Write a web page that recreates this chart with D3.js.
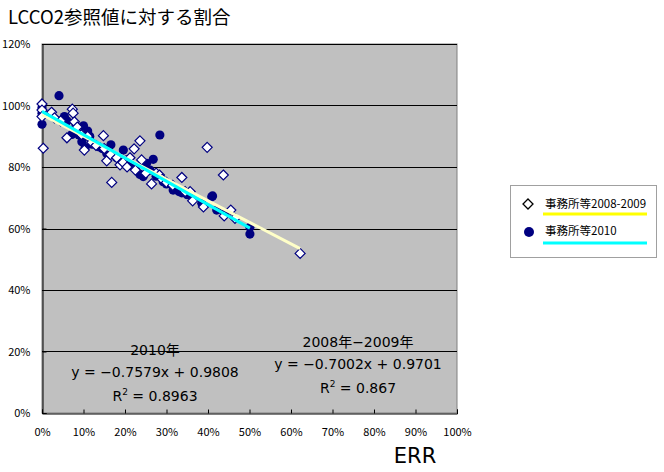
<!DOCTYPE html>
<html><head><meta charset="utf-8">
<script src="https://cdn.jsdelivr.net/npm/d3@7"></script>
<style>
body{margin:0;background:#fff;}
svg text{font-family:"Noto Sans CJK JP","Noto Sans",sans-serif;}
svg text.lat{font-family:"DejaVu Sans","Noto Sans CJK JP",sans-serif;}
</style></head>
<body><svg id="c" width="664" height="472"></svg>
<script>
const titleText = "LCCO2参照値に対する割合";
const xTicks = [0,0.1,0.2,0.3,0.4,0.5,0.6,0.7,0.8,0.9,1.0];
const yTicks = [0,0.2,0.4,0.6,0.8,1.0,1.2];
const seriesNames = ["事務所等2008-2009","事務所等2010"];
const diamonds2008 = [
[0.000,1.005],[0.000,0.985],[0.000,0.964],[0.003,0.861],[0.023,0.978],[0.030,0.960],[0.045,0.950],[0.060,0.895],[0.073,0.988],[0.075,0.975],[0.078,0.947],[0.085,0.930],[0.095,0.905],[0.102,0.855],[0.110,0.900],[0.120,0.880],[0.130,0.870],[0.148,0.902],[0.150,0.860],[0.156,0.820],[0.165,0.840],[0.168,0.750],[0.180,0.830],[0.188,0.807],[0.195,0.815],[0.205,0.800],[0.212,0.830],[0.222,0.859],[0.225,0.790],[0.236,0.885],[0.240,0.823],[0.250,0.780],[0.264,0.745],[0.275,0.780],[0.283,0.774],[0.290,0.760],[0.300,0.750],[0.315,0.740],[0.337,0.766],[0.345,0.720],[0.357,0.720],[0.363,0.690],[0.389,0.670],[0.398,0.864],[0.437,0.774],[0.439,0.641],[0.455,0.660],[0.465,0.633],[0.622,0.519]
];
const circles2010 = [
[0.000,0.993],[0.000,0.975],[0.000,0.939],[0.041,1.032],[0.054,0.964],[0.060,0.950],[0.072,0.906],[0.080,0.925],[0.089,0.904],[0.096,0.882],[0.100,0.934],[0.104,0.863],[0.110,0.917],[0.115,0.900],[0.121,0.874],[0.136,0.866],[0.145,0.860],[0.156,0.844],[0.160,0.855],[0.166,0.872],[0.180,0.830],[0.196,0.855],[0.204,0.823],[0.210,0.810],[0.220,0.801],[0.225,0.795],[0.236,0.776],[0.244,0.769],[0.252,0.812],[0.260,0.790],[0.268,0.825],[0.275,0.770],[0.284,0.904],[0.292,0.752],[0.300,0.745],[0.316,0.725],[0.330,0.720],[0.337,0.716],[0.350,0.710],[0.385,0.682],[0.409,0.703],[0.411,0.706],[0.421,0.660],[0.440,0.650],[0.501,0.604],[0.501,0.582]
];
const trend2008 = {slope:-0.7002, intercept:0.9701, r2:"0.867", label:"2008年−2009年"};
const trend2010 = {slope:-0.7579, intercept:0.9808, r2:"0.8963", label:"2010年"};

const svg = d3.select("#c");
const x = d3.scaleLinear().domain([0,1]).range([42,457]);
const y = d3.scaleLinear().domain([0,1.2]).range([413,44]);

svg.append("text").attr("x",8).attr("y",24).attr("font-size",18.5).attr("fill","#000").text(titleText);

// plot area
svg.append("rect").attr("x",x(0)).attr("y",y(1.2)).attr("width",x(1)-x(0)).attr("height",y(0)-y(1.2))
  .attr("fill","#c0c0c0").attr("stroke","#808080").attr("stroke-width",1);
svg.append("g").selectAll("line").data(yTicks.filter(d=>d>0)).join("line")
  .attr("x1",x(0)).attr("x2",x(1)).attr("y1",d=>Math.round(y(d))+0.5).attr("y2",d=>Math.round(y(d))+0.5)
  .attr("stroke","#000").attr("stroke-width",1);

const fmt = d=>Math.round(d*100)+"%";
const gx = svg.append("g").attr("transform",`translate(0,${Math.round(y(0))+0.5})`)
  .call(d3.axisBottom(x).tickValues(xTicks).tickFormat(fmt).tickSize(-4).tickPadding(15));
gx.selectAll("text").attr("font-size",11).attr("fill","#000");
gx.selectAll("line").attr("stroke","#000");
gx.select(".domain").attr("stroke","#000");
const gy = svg.append("g").attr("transform",`translate(${Math.round(x(0))+0.5},0)`)
  .call(d3.axisLeft(y).tickValues(yTicks).tickFormat(fmt).tickSize(-4).tickPadding(12));
gy.selectAll("text").attr("font-size",11).attr("fill","#000");
gy.selectAll("line").attr("stroke","#000");
gy.select(".domain").attr("stroke","#000");

// markers
const navy = "#000080";
svg.append("g").selectAll("circle").data(circles2010).join("circle")
  .attr("cx",d=>x(d[0])).attr("cy",d=>y(d[1])).attr("r",4.6).attr("fill",navy);
const diamondPath = "M0,-5L5,0L0,5L-5,0Z";
svg.append("g").selectAll("path").data(diamonds2008).join("path")
  .attr("d",diamondPath).attr("transform",d=>`translate(${x(d[0])},${y(d[1])})`)
  .attr("fill","#fff").attr("stroke",navy).attr("stroke-width",1.2);

// trendlines
function trend(t, xmax, color){
  svg.append("line").attr("x1",x(0)).attr("y1",y(t.intercept))
    .attr("x2",x(xmax)).attr("y2",y(t.intercept+t.slope*xmax))
    .attr("stroke",color).attr("stroke-width",3);
}
trend(trend2008, d3.max(diamonds2008,d=>d[0]), "#ffffc8");
trend(trend2010, d3.max(circles2010,d=>d[0]), "#00ffff");

// equations
function eq(t, cx, cy){
  const g = svg.append("g").attr("font-size",14).attr("text-anchor","middle").attr("fill","#000");
  g.append("text").attr("class","lat").attr("x",cx).attr("y",cy).text(t.label);
  const sign = t.intercept>=0?"+":"−";
  g.append("text").attr("class","lat").attr("x",cx).attr("y",cy+22)
    .text(`y = −${Math.abs(t.slope).toFixed(4)}x ${sign} ${Math.abs(t.intercept).toFixed(4)}`);
  const r = g.append("text").attr("class","lat").attr("x",cx).attr("y",cy+46);
  r.append("tspan").text("R");
  r.append("tspan").attr("font-size",9).attr("dy",-6).text("2");
  r.append("tspan").attr("dy",6).text(" = "+t.r2);
}
eq(trend2010, 155, 355);
eq(trend2008, 358, 347);

// axis title
svg.append("text").attr("class","lat").attr("x",415).attr("y",463).attr("text-anchor","middle").attr("font-size",21).attr("fill","#000").text("ERR");

// legend
const lg = svg.append("g");
lg.append("rect").attr("x",510.5).attr("y",185.5).attr("width",146).attr("height",72).attr("fill","#fff").attr("stroke","#a0a0a0");
lg.append("path").attr("d",diamondPath).attr("transform","translate(528,204)").attr("fill","#fff").attr("stroke","#000").attr("stroke-width",1.3);
lg.append("text").attr("x",545).attr("y",208).attr("font-size",11.5).text(seriesNames[0]);
lg.append("line").attr("x1",543).attr("x2",647).attr("y1",214).attr("y2",214).attr("stroke","#ffff00").attr("stroke-width",3);
lg.append("circle").attr("cx",529).attr("cy",232).attr("r",5).attr("fill",navy);
lg.append("text").attr("x",545).attr("y",235).attr("font-size",11.5).text(seriesNames[1]);
lg.append("line").attr("x1",543).attr("x2",647).attr("y1",243).attr("y2",243).attr("stroke","#00ffff").attr("stroke-width",3);
</script></body></html>
